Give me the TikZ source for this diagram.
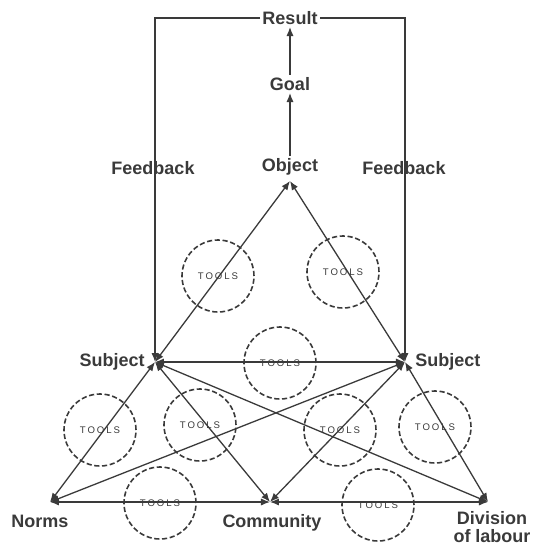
\documentclass[tikz,border=0pt]{standalone}
\usepackage{fontspec}
\setmainfont{Liberation Sans}
\newfontfamily\toolsfont[LetterSpace=20]{Liberation Sans}
\usetikzlibrary{arrows.meta}
\definecolor{AtInk}{HTML}{3A3A3A}

\begin{document}
\begin{tikzpicture}[x=0.5pt,y=-0.5pt]
    \tikzset{vertexlabel/.style={font=\fontsize{9}{9}\selectfont\bfseries,text=AtInk,inner sep=1pt,align=center},
      toolring/.style={circle,draw=AtInk,dash pattern=on 2.6pt off 1.3pt,line width=0.8pt,minimum size=36pt,
        inner sep=0pt,font=\toolsfont\fontsize{4.8}{5}\selectfont,text=AtInk},
      link/.style={{Latex[length=4.5pt,width=3.6pt]}-{Latex[length=4.5pt,width=3.6pt]},AtInk,line width=0.65pt},
      rise/.style={-{Latex[length=4.5pt,width=3.6pt]},AtInk,line width=0.65pt}}
    \useasboundingbox (0,0) rectangle (534,548);
    % corners of the triangles
    \coordinate (obj) at (290,181);
    \coordinate (subjL) at (155,362);
    \coordinate (subjR) at (405,362);
    \coordinate (norms) at (50,502);
    \coordinate (comm) at (270,502);
    \coordinate (div) at (488,502);
    % labels
    \node[vertexlabel] (result) at (290,18) {Result};
    \node[vertexlabel] (goal) at (290,84) {Goal};
    \node[vertexlabel] (object) at (290,167) {Object};
    \node[vertexlabel] (fbL) at (153,168) {Feedback};
    \node[vertexlabel] (fbR) at (404,168) {Feedback};
    \node[vertexlabel,anchor=east] (subjLtext) at (147,362) {Subject};
    \node[vertexlabel,anchor=west] (subjRtext) at (413,362) {Subject};
    \node[vertexlabel] (normstext) at (40,521) {Norms};
    \node[vertexlabel] (commtext) at (272,523) {Community};
    \node[vertexlabel] (divtext) at (492,527) {Division\\of labour};
    % tools
    \node[toolring] (t1) at (218,276) {TOOLS};
    \node[toolring] (t2) at (343,272) {TOOLS};
    \node[toolring] (t3) at (280,363) {TOOLS};
    \node[toolring] (t4) at (100,430) {TOOLS};
    \node[toolring] (t5) at (200,425) {TOOLS};
    \node[toolring] (t6) at (340,430) {TOOLS};
    \node[toolring] (t7) at (435,427) {TOOLS};
    \node[toolring] (t8) at (160,503) {TOOLS};
    \node[toolring] (t9) at (378,505) {TOOLS};
    % connectors
    \draw[rise] (object) -- (goal);
    \draw[rise] (goal) -- (result);
    \draw[rise] (result.west) -| (subjL);
    \draw[rise] (result.east) -| (subjR);
    \draw[link] (obj) -- (subjL);
    \draw[link] (obj) -- (subjR);
    \draw[link] (subjL) -- (subjR);
    \draw[link] (subjL) -- (norms);
    \draw[link] (subjL) -- (comm);
    \draw[link] (subjL) -- (div);
    \draw[link] (subjR) -- (norms);
    \draw[link] (subjR) -- (comm);
    \draw[link] (subjR) -- (div);
    \draw[link] (norms) -- (comm);
    \draw[link] (comm) -- (div);
  \end{tikzpicture}
\end{document}
